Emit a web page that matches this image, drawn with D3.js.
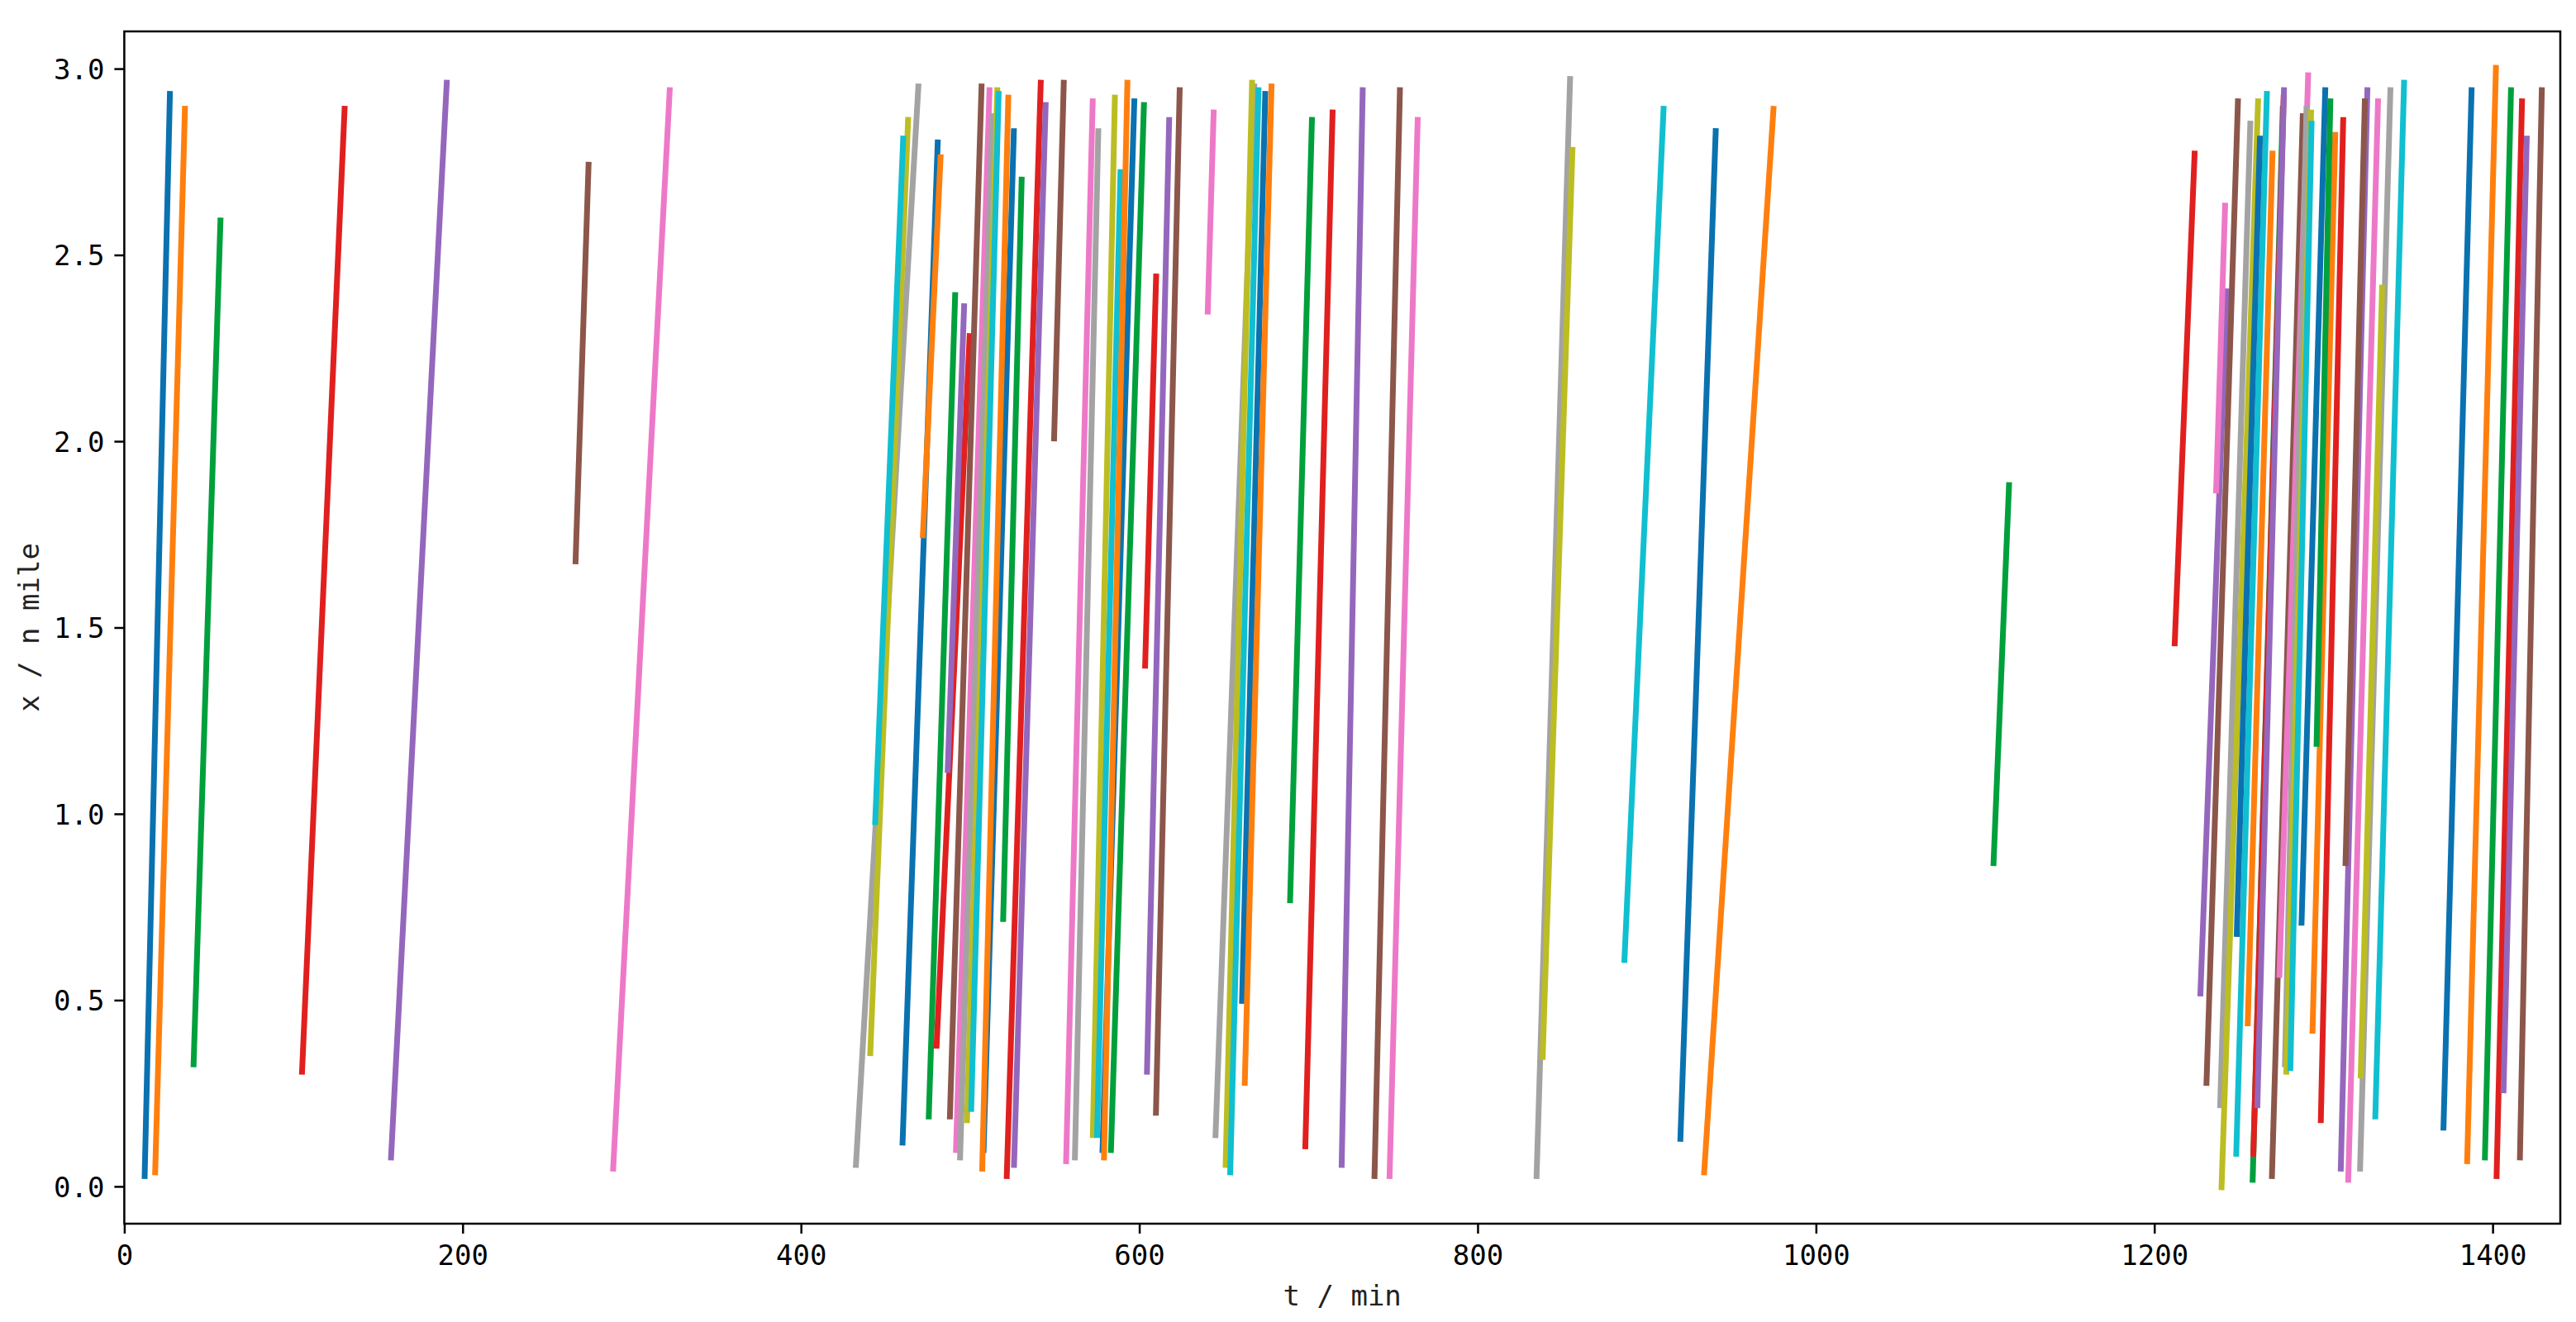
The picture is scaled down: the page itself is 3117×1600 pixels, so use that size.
<!DOCTYPE html>
<html lang="zh">
  <head>
    <meta charset="UTF-8" />
    <title>Ship trajectories x / n mile vs t / min</title>
    <script src="https://d3js.org/d3.v7.min.js"></script>
    <style>
      body {
        margin: 0;
        padding: 0;
        background-color: #ffffff;
      }
      svg text {
        font-family: "DejaVu Sans Mono", "Liberation Mono", monospace;
      }
    </style>
  </head>
  <body>
    <div id="chart"></div>

    <script>
      // -----------------------------
      // 1. Data (one entry per track, in drawing order)
      // -----------------------------

      // start time (min) and start position (n mile) of each track
      const startT = [
        12.0, 18.2, 40.9, 105.0, 157.6, 266.7, 288.9,
        432.4, 440.9, 443.8, 460.0, 472.0, 475.5, 480.1, 486.7, 488.0, 491.6,
        494.0, 498.1, 500.6, 507.9, 507.1, 519.5, 521.6, 525.9, 549.6, 556.7,
        561.9, 572.5, 575.0, 578.2, 579.1, 583.2, 603.4, 604.5, 609.8, 640.4,
        645.0, 651.0, 653.7, 660.7, 662.3, 689.1, 698.1, 719.6, 739.0, 747.9,
        834.8, 838.4, 886.7, 919.8, 933.8, 1104.9,
        1212.0, 1227.2, 1230.8, 1236.5, 1238.9, 1239.7, 1248.4, 1248.7, 1255.2,
        1258.1, 1258.5, 1260.9, 1269.5, 1273.9, 1277.2, 1278.0, 1280.4, 1287.0,
        1293.5, 1295.9, 1298.4, 1310.2, 1313.0, 1314.6, 1321.6, 1322.0, 1330.6,
        1370.9, 1384.9, 1395.4, 1402.3, 1406.4, 1416.1
      ];
      const startX = [
        0.02, 0.03, 0.32, 0.30, 0.07, 1.67, 0.04,
        0.05, 0.35, 0.97, 0.11, 1.74, 0.18, 0.37, 1.11, 0.18, 0.09,
        0.07, 0.17, 0.20, 0.09, 0.04, 0.71, 0.02, 0.05, 2.00, 0.06,
        0.07, 0.13, 0.13, 0.09, 0.07, 0.09, 1.39, 0.30, 0.19, 2.34,
        0.13, 0.05, 0.03, 0.49, 0.27, 0.76, 0.10, 0.05, 0.02, 0.02,
        0.02, 0.34, 0.60, 0.12, 0.03, 0.86,
        1.45, 0.51, 0.27, 1.86, 0.21, -0.01, 0.08, 0.67, 0.43,
        0.01, 0.08, 0.21, 0.02, 0.56, 0.32, 0.30, 0.31, 0.70,
        0.41, 1.18, 0.17, 0.04, 0.86, 0.01, 0.04, 0.29, 0.18,
        0.15, 0.06, 0.07, 0.02, 0.25, 0.07
      ];

      // end time (min) and end position (n mile) of each track
      const endT = [
        27.0, 35.9, 56.9, 130.3, 190.7, 274.5, 322.5,
        469.5, 463.4, 460.5, 480.9, 482.6, 491.2, 499.8, 496.5, 506.8, 511.5,
        513.2, 516.1, 516.9, 525.9, 522.6, 530.5, 541.8, 544.7, 555.4, 572.5,
        575.8, 585.6, 588.9, 597.1, 593.0, 602.8, 610.0, 617.7, 623.9, 644.0,
        668.0, 666.7, 670.5, 674.5, 678.2, 702.1, 714.3, 732.1, 754.1, 764.6,
        854.7, 856.1, 910.0, 940.8, 975.0, 1114.2,
        1223.9, 1243.0, 1249.5, 1241.9, 1256.8, 1261.4, 1266.6, 1262.5, 1269.9,
        1276.0, 1276.5, 1276.7, 1287.8, 1291.0, 1290.0, 1292.7, 1293.0, 1301.1,
        1307.0, 1304.1, 1311.7, 1326.0, 1324.5, 1332.3, 1339.6, 1334.7, 1347.7,
        1387.6, 1402.0, 1410.9, 1417.4, 1420.2, 1429.1
      ];
      const endX = [
        2.94, 2.90, 2.60, 2.90, 2.97, 2.75, 2.95,
        2.96, 2.87, 2.82, 2.81, 2.77, 2.40, 2.29, 2.37, 2.96, 2.95,
        2.88, 2.95, 2.94, 2.84, 2.93, 2.71, 2.97, 2.91, 2.97, 2.92,
        2.84, 2.93, 2.73, 2.92, 2.97, 2.91, 2.45, 2.87, 2.95, 2.89,
        2.96, 2.97, 2.95, 2.94, 2.96, 2.87, 2.89, 2.95, 2.95, 2.87,
        2.98, 2.79, 2.90, 2.84, 2.90, 1.89,
        2.78, 2.41, 2.92, 2.64, 2.86, 2.92, 2.94, 2.82, 2.78,
        2.90, 2.93, 2.95, 2.88, 2.99, 2.90, 2.89, 2.86, 2.95,
        2.83, 2.92, 2.87, 2.95, 2.92, 2.92, 2.95, 2.42, 2.97,
        2.95, 3.01, 2.95, 2.92, 2.82, 2.95
      ];

      // colour cycle (matplotlib default order)
      const palette = [
        "#0a72b0", "#ff7f0e", "#00a03c", "#e0201f", "#9467bd",
        "#8c564b", "#ee78c8", "#a3a3a3", "#bcbd22", "#10bfd0"
      ];

      const xTicks = [0, 200, 400, 600, 800, 1000, 1200, 1400];
      const yTicks = [0.0, 0.5, 1.0, 1.5, 2.0, 2.5, 3.0];
      const xLabel = "t / min";
      const yLabel = "x / n mile";

      // -----------------------------
      // 2. SVG and scales
      // -----------------------------

      const width = 3117;
      const height = 1600;
      const plot = { left: 150.4, right: 3098, top: 38, bottom: 1481 };

      const svg = d3
        .select("#chart")
        .append("svg")
        .attr("width", width)
        .attr("height", height)
        .style("background-color", "#ffffff");

      const x = d3.scaleLinear().domain([0, 1440]).range([plot.left, plot.right]);
      const y = d3.scaleLinear().domain([-0.1, 3.1]).range([plot.bottom, plot.top]);

      // -----------------------------
      // 3. Tracks
      // -----------------------------

      const tracks = startT.map((t0, i) => ({
        t0: t0,
        x0: startX[i],
        t1: endT[i],
        x1: endX[i],
        color: palette[i % palette.length],
      }));

      svg
        .append("g")
        .selectAll("line")
        .data(tracks)
        .enter()
        .append("line")
        .attr("x1", (d) => x(d.t0))
        .attr("y1", (d) => y(d.x0))
        .attr("x2", (d) => x(d.t1))
        .attr("y2", (d) => y(d.x1))
        .attr("stroke", (d) => d.color)
        .attr("stroke-width", 7)
        .attr("stroke-linecap", "butt");

      // -----------------------------
      // 4. Axes and frame
      // -----------------------------

      const xAxis = d3
        .axisBottom(x)
        .tickValues(xTicks)
        .tickFormat(d3.format("d"))
        .tickSize(12)
        .tickPadding(14);

      const yAxis = d3
        .axisLeft(y)
        .tickValues(yTicks)
        .tickFormat(d3.format(".1f"))
        .tickSize(12)
        .tickPadding(12);

      const gx = svg
        .append("g")
        .attr("transform", `translate(0,${plot.bottom})`)
        .call(xAxis);

      const gy = svg
        .append("g")
        .attr("transform", `translate(${plot.left},0)`)
        .call(yAxis);

      [gx, gy].forEach((g) => {
        g.select(".domain").remove();
        g.selectAll(".tick line").attr("stroke", "#000").attr("stroke-width", 2.5);
        g.selectAll(".tick text")
          .attr("fill", "#000")
          .style("font-size", "34px");
      });
      gy.selectAll(".tick text").attr("dy", "0.36em");

      // frame round the plot area
      svg
        .append("rect")
        .attr("x", plot.left)
        .attr("y", plot.top)
        .attr("width", plot.right - plot.left)
        .attr("height", plot.bottom - plot.top)
        .attr("fill", "none")
        .attr("stroke", "#000")
        .attr("stroke-width", 2.5);

      // axis titles
      svg
        .append("text")
        .attr("x", (plot.left + plot.right) / 2)
        .attr("y", 1580)
        .attr("text-anchor", "middle")
        .attr("fill", "#222")
        .style("font-size", "34px")
        .text(xLabel);

      svg
        .append("text")
        .attr("transform", `translate(47,${(plot.top + plot.bottom) / 2}) rotate(-90)`)
        .attr("text-anchor", "middle")
        .attr("fill", "#222")
        .style("font-size", "34px")
        .text(yLabel);
    </script>
  </body>
</html>
